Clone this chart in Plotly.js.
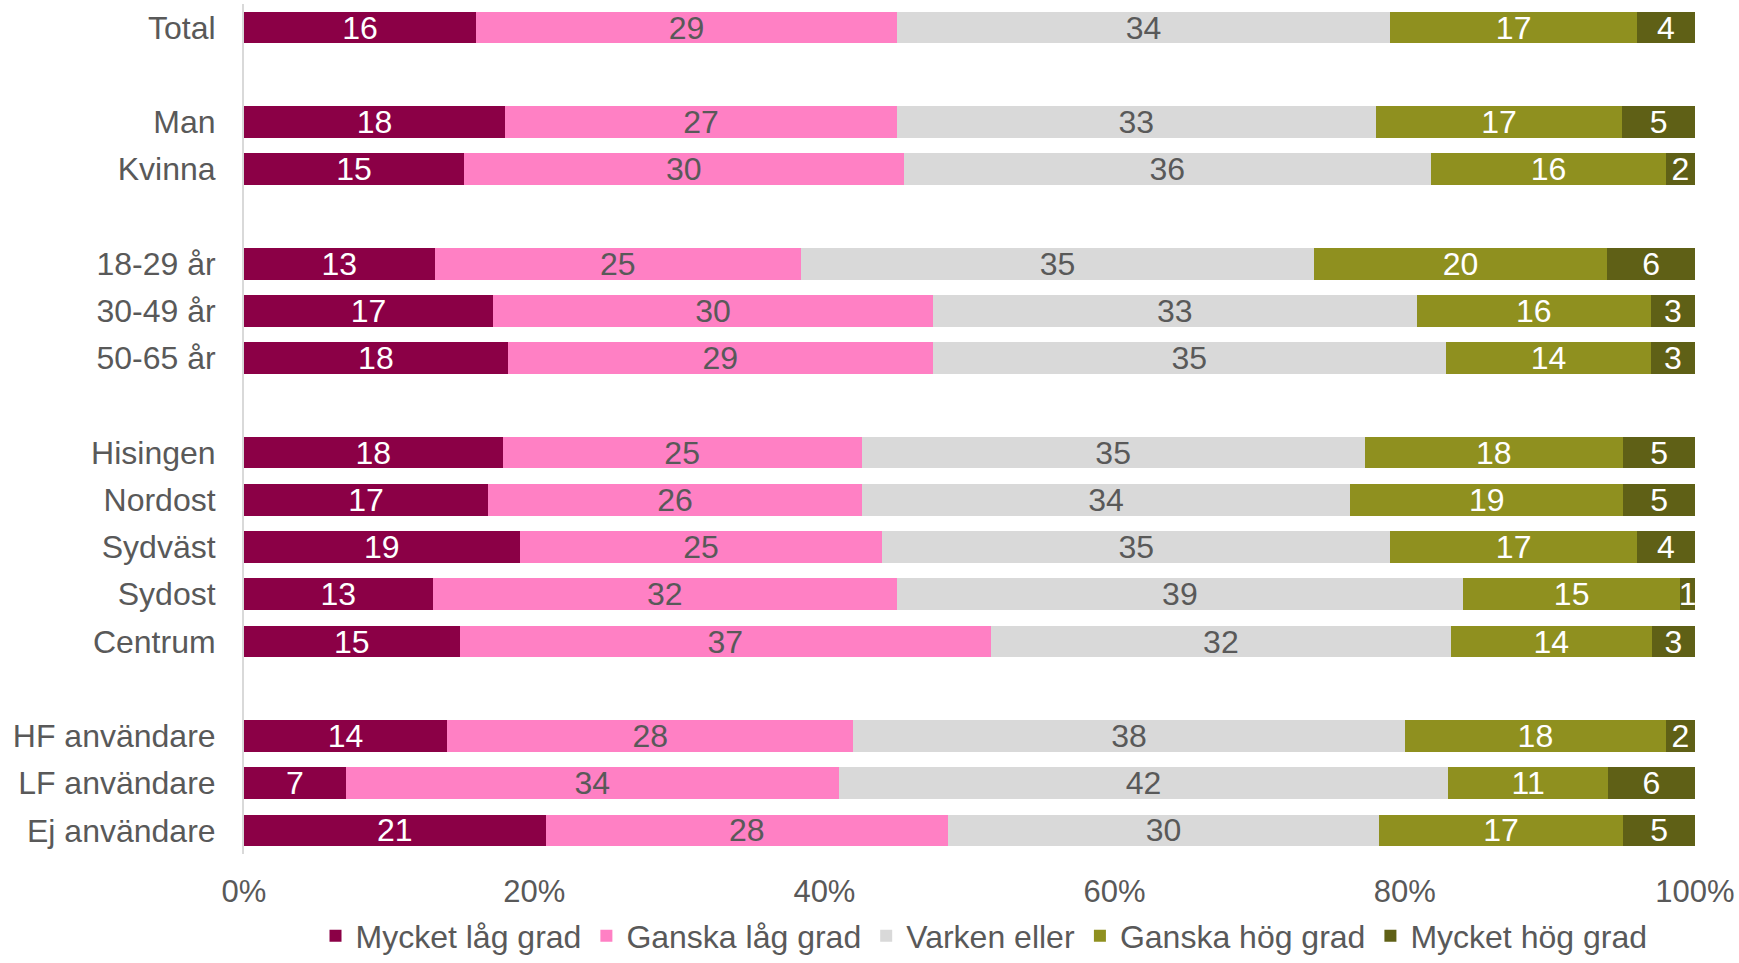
<!DOCTYPE html>
<html>
<head>
<meta charset="utf-8">
<script src="https://cdn.plot.ly/plotly-3.0.1.min.js"></script>
<style>html,body{margin:0;padding:0;background:#fff;}#chart{width:1739px;height:963px;}</style>
</head>
<body>
<div id="chart"></div>
<script>
// Row order (blank strings are spacer rows between groups)
const categories = ["Total", " ", "Man", "Kvinna", "  ", "18-29 år", "30-49 år", "50-65 år", "   ",
  "Hisingen", "Nordost", "Sydväst", "Sydost", "Centrum", "    ", "HF användare", "LF användare", "Ej användare"];
const groups = ["Total", "Man", "Kvinna", "18-29 år", "30-49 år", "50-65 år",
  "Hisingen", "Nordost", "Sydväst", "Sydost", "Centrum", "HF användare", "LF användare", "Ej användare"];
const seriesNames = ["Mycket låg grad", "Ganska låg grad", "Varken eller", "Ganska hög grad", "Mycket hög grad"];
const mycketLag  = [16, 18, 15, 13, 17, 18, 18, 17, 19, 13, 15, 14, 7, 21];
const ganskaLag  = [29, 27, 30, 25, 30, 29, 25, 26, 25, 32, 37, 28, 34, 28];
const varken     = [34, 33, 36, 35, 33, 35, 35, 34, 35, 39, 32, 38, 42, 30];
const ganskaHog  = [17, 17, 16, 20, 16, 14, 18, 19, 17, 15, 14, 18, 11, 17];
const mycketHog  = [4, 5, 2, 6, 3, 3, 5, 5, 4, 1, 3, 2, 6, 5];
const xTickVals  = [0, 20, 40, 60, 80, 100];
const xTickText  = ["0%", "20%", "40%", "60%", "80%", "100%"];

const values = [mycketLag, ganskaLag, varken, ganskaHog, mycketHog];
const colors = ["#8B0046", "#FF80C4", "#D9D9D9", "#8F901F", "#5F6016"];
const textColors = ["#FFFFFF", "#595959", "#595959", "#FFFFFF", "#FFFFFF"];
const FONT = "Liberation Sans, Arial, sans-serif";
const FS = 32;

const traces = seriesNames.map((name, i) => ({
  type: "bar",
  orientation: "h",
  name: name,
  y: groups,
  x: values[i],
  text: values[i].map(String),
  texttemplate: "%{text}",
  textposition: "inside",
  textangle: 0,
  insidetextanchor: "middle",
  insidetextfont: {family: FONT, size: FS, color: textColors[i]},
  marker: {color: colors[i], line: {width: 0}},
  hoverinfo: "skip"
}));

const layout = {
  width: 1739, height: 963,
  margin: {l: 244, r: 44, t: 4, b: 109},
  paper_bgcolor: "#FFFFFF",
  plot_bgcolor: "#FFFFFF",
  barmode: "stack",
  barnorm: "percent",
  bargap: 0.33,
  font: {family: FONT, size: FS, color: "#595959"},
  uniformtext: {mode: "show", minsize: FS},
  xaxis: {
    range: [0, 100],
    tickvals: xTickVals,
    ticktext: xTickText,
    showgrid: false,
    zeroline: false,
    showline: false,
    ticks: "",
    ticklabelstandoff: 16,
    tickfont: {family: FONT, size: 31, color: "#595959"},
    fixedrange: true
  },
  yaxis: {
    type: "category",
    categoryorder: "array",
    categoryarray: categories,
    range: [categories.length - 0.5, -0.5],
    showgrid: false,
    zeroline: false,
    showline: true,
    linecolor: "#D9D9D9",
    linewidth: 2,
    ticks: "",
    ticklabelstandoff: 20,
    tickfont: {family: FONT, size: FS, color: "#595959"},
    fixedrange: true
  },
  showlegend: true,
  legend: {
    orientation: "h",
    x: 0.51, xanchor: "center",
    yref: "container",
    y: 0.028, yanchor: "middle",
    font: {family: FONT, size: 32, color: "#595959"},
    traceorder: "normal",
    itemclick: false
  }
};

Plotly.newPlot("chart", traces, layout, {displayModeBar: false, staticPlot: true});
</script>
</body>
</html>
